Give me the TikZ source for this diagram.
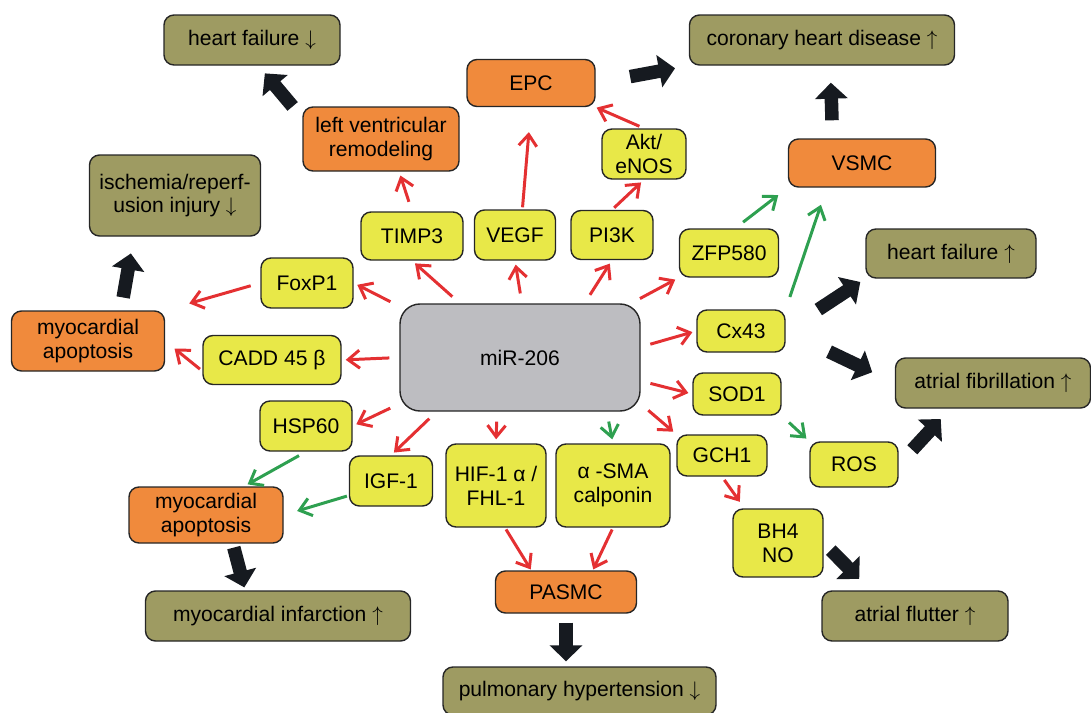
\documentclass[tikz,border=0pt]{standalone}
\usepackage{fontspec}
\setmainfont{Liberation Sans}
\usetikzlibrary{arrows.meta}
\definecolor{boxolive}{RGB}{158,155,98}
\definecolor{boxorange}{RGB}{240,138,60}
\definecolor{boxyellow}{RGB}{232,232,72}
\definecolor{boxgray}{RGB}{189,189,193}
\definecolor{arrred}{RGB}{228,48,50}
\definecolor{arrgreen}{RGB}{46,160,80}
\definecolor{arrblack}{RGB}{22,26,32}

\begin{document}
\begin{tikzpicture}[
  box/.style={draw=black!85, line width=0.8pt, rounded corners=0.2cm, inner sep=0pt,
    align=center, font=\fontsize{12}{13.6}\selectfont},
  disease/.style={box, fill=boxolive},
  cell/.style={box, fill=boxorange},
  gene/.style={box, fill=boxyellow},
  redarrow/.style={draw=arrred, line width=1.7pt, -{Straight Barb[length=2.3mm,width=3.6mm]},
    shorten <=0.2cm, shorten >=0.08cm},
  greenarrow/.style={redarrow, draw=arrgreen},
  bigarrow/.style={draw=arrblack, line width=0.27cm, -{Triangle[length=0.32cm,width=0.64cm]}}
]
\useasboundingbox (0,0) rectangle (21.82,-14.26);

%mir-206
\node[box, fill=boxgray, rounded corners=0.4cm, minimum width=4.8cm, minimum height=2.14cm] (mir) at (10.4,-7.15) {miR-206};

%top
\node[disease, minimum width=3.52cm, minimum height=1cm] (hfdown) at (5.04,-0.8) {heart failure $\downarrow$};
\node[disease, minimum width=5.3cm, minimum height=1cm] (chd) at (16.44,-0.8) {coronary heart disease $\uparrow$};
\node[cell, minimum width=2.56cm, minimum height=0.94cm] (epc) at (10.62,-1.66) {EPC};
\node[cell, minimum width=3.12cm, minimum height=1.28cm] (lvr) at (7.62,-2.78) {left ventricular\\remodeling};
\node[gene, minimum width=1.68cm, minimum height=1cm] (akt) at (12.88,-3.08) {Akt/\\eNOS};
\node[cell, minimum width=2.94cm, minimum height=0.96cm] (vsmc) at (17.24,-3.26) {VSMC};
\node[gene, minimum width=2.04cm, minimum height=0.96cm] (timp) at (8.24,-4.72) {TIMP3};
\node[gene, minimum width=1.62cm, minimum height=1cm] (vegf) at (10.3,-4.7) {VEGF};
\node[gene, minimum width=1.64cm, minimum height=0.98cm] (pik) at (12.24,-4.7) {PI3K};
\node[gene, minimum width=1.98cm, minimum height=0.96cm] (zfp) at (14.58,-5.06) {ZFP580};

%left
\node[disease, minimum width=3.42cm, minimum height=1.62cm] (isch) at (3.5,-3.91) {ischemia/reperf-\\usion injury $\downarrow$};
\node[gene, minimum width=1.84cm, minimum height=1cm] (foxp) at (6.14,-5.66) {FoxP1};
\node[cell, minimum width=3.06cm, minimum height=1.2cm] (apoa) at (1.76,-6.82) {myocardial\\apoptosis};
\node[gene, minimum width=2.76cm, minimum height=0.98cm] (cadd) at (5.44,-7.2) {CADD 45 β};
\node[gene, minimum width=1.84cm, minimum height=1cm] (hsp) at (6.12,-8.52) {HSP60};

%right
\node[disease, minimum width=3.4cm, minimum height=0.98cm] (hfup) at (19.02,-5.07) {heart failure $\uparrow$};
\node[gene, minimum width=1.76cm, minimum height=0.84cm] (cx) at (14.82,-6.62) {Cx43};
\node[disease, minimum width=3.9cm, minimum height=1cm] (af) at (19.86,-7.66) {atrial fibrillation $\uparrow$};
\node[gene, minimum width=1.76cm, minimum height=0.84cm] (sod) at (14.74,-7.88) {SOD1};
\node[gene, minimum width=1.8cm, minimum height=0.82cm] (gch) at (14.44,-9.11) {GCH1};
\node[gene, minimum width=1.76cm, minimum height=0.9cm] (ros) at (17.08,-9.29) {ROS};

%bottom
\node[gene, minimum width=1.66cm, minimum height=1cm] (igf) at (7.82,-9.62) {IGF-1};
\node[gene, minimum width=2cm, minimum height=1.66cm] (hif) at (9.92,-9.71) {HIF-1 α /\\FHL-1};
\node[gene, minimum width=2.28cm, minimum height=1.66cm] (sma) at (12.26,-9.71) {α -SMA\\calponin};
\node[cell, minimum width=3.08cm, minimum height=1.12cm] (apob) at (4.12,-10.3) {myocardial\\apoptosis};
\node[gene, minimum width=1.8cm, minimum height=1.36cm] (bh) at (15.56,-10.86) {BH4\\NO};
\node[cell, minimum width=2.82cm, minimum height=0.84cm] (pasmc) at (11.32,-11.84) {PASMC};
\node[disease, minimum width=5.3cm, minimum height=1cm] (mi) at (5.56,-12.32) {myocardial infarction $\uparrow$};
\node[disease, minimum width=3.72cm, minimum height=1cm] (afl) at (18.3,-12.32) {atrial flutter $\uparrow$};
\node[disease, minimum width=5.46cm, minimum height=0.96cm] (ph) at (11.59,-13.82) {pulmonary hypertension $\downarrow$};

%mir-206 -> targets
\draw[redarrow] (mir.138) -- (timp.south);
\draw[redarrow] (mir.88) -- (vegf.south);
\draw[redarrow] (mir.40) -- (pik.south);
\draw[redarrow] (mir.26) -- (zfp.south west);
\draw[redarrow] (mir.157) -- (foxp.east);
\draw[redarrow] (mir.west) -- (cadd.east);
\draw[redarrow] (mir.201) -- (hsp.east);
\draw[redarrow] (mir.213) -- (igf.north);
\draw[redarrow] (mir.247) -- (hif.north);
\draw[greenarrow] (mir.328) -- (sma.north);
\draw[redarrow] (mir.5) -- (cx.west);
\draw[redarrow] (mir.349) -- (sod.west);
\draw[redarrow] (mir.339) -- (gch.north west);

%second level
\draw[redarrow] (timp.north) -- (lvr.-61);
\draw[redarrow, shorten <=0.04cm, shorten >=0.5cm] (vegf.74) -- (epc.south);
\draw[redarrow, shorten <=0.06cm] (pik.north) -- (akt.south);
\draw[redarrow, shorten <=0.1cm, shorten >=0.02cm] (akt.north) -- (epc.south east);
\draw[redarrow, shorten >=0.5cm] (foxp.west) -- (apoa.north east);
\draw[redarrow, shorten <=0.06cm, shorten >=0.24cm] (cadd.189) -- (apoa.east);
\draw[greenarrow, shorten >=0.24cm] (zfp.76) -- (vsmc.south west);
\draw[greenarrow, shorten <=0.26cm, shorten >=0.36cm] (cx.north east) -- (vsmc.215);
\draw[greenarrow] (sod.south east) -- (ros.north west);
\draw[redarrow, shorten <=0.08cm, shorten >=0.16cm] (gch.south) -- (bh.134);
\draw[greenarrow, shorten <=0.16cm] (hsp.south) -- (apob.37);
\draw[greenarrow, shorten <=0.04cm, shorten >=0.28cm] (igf.199) -- (apob.east);
\draw[redarrow, shorten <=0.04cm, shorten >=0.02cm] (hif.-78) -- (pasmc.148);
\draw[redarrow, shorten <=0.04cm, shorten >=0.02cm] (sma.south) -- (pasmc.39);

%outcomes
\draw[bigarrow, shorten <=0.3cm, shorten >=0.2cm] (lvr.165) -- (hfdown.-76);
\draw[bigarrow, shorten <=0.7cm, shorten >=0.28cm] (epc.east) -- (chd.south west);
\draw[bigarrow, shorten <=0.36cm, shorten >=0.34cm] (vsmc.140) -- (chd.-72);
\draw[bigarrow, shorten <=0.26cm, shorten >=0.34cm] (apoa.43) -- (isch.225);
\draw[bigarrow, shorten <=0.78cm, shorten >=0.12cm] (cx.east) -- (hfup.south west);
\draw[bigarrow, shorten <=0.96cm, shorten >=0.5cm] (cx.east) -- (af.west);
\draw[bigarrow, shorten <=0.4cm, shorten >=0.28cm] (ros.east) -- (af.211);
\draw[bigarrow, shorten <=0.08cm, shorten >=0.06cm] (apob.-47) -- (mi.142);
\draw[bigarrow, shorten <=0.2cm, shorten >=0.32cm] (bh.east) -- (afl.150);
\draw[bigarrow, shorten <=0.18cm, shorten >=0.1cm] (pasmc.south) -- (pasmc.south |- ph.north);

\end{tikzpicture}
\end{document}
